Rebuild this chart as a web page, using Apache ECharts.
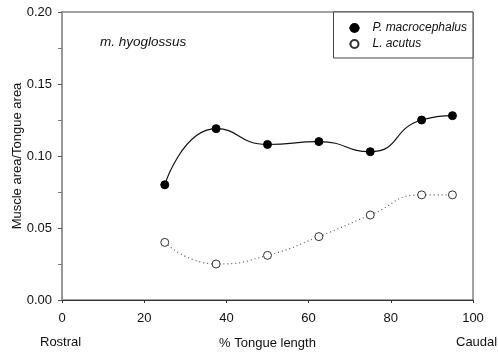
<!DOCTYPE html>
<html>
<head>
<meta charset="utf-8">
<script src="https://cdn.jsdelivr.net/npm/echarts@6/dist/echarts.min.js"></script>
<style>
  html, body { margin: 0; padding: 0; background: #fff; }
  #chart { width: 498px; height: 352px; }
</style>
</head>
<body>
<div id="chart"></div>
<script>
// tongue position (% length) and muscle area ratio
var positions = [25, 37.5, 50, 62.5, 75, 87.5, 95];
var macrocephalus = [0.080, 0.119, 0.108, 0.110, 0.103, 0.125, 0.128];
var acutus = [0.040, 0.025, 0.031, 0.044, 0.059, 0.073, 0.073];
var yTicks = ['0.00', '0.05', '0.10', '0.15', '0.20'];

function pairs(ys) {
    return positions.map(function (x, i) { return [x, ys[i]]; });
}

var font = 'Liberation Sans, Arial, sans-serif';
var chart = echarts.init(document.getElementById('chart'));

chart.setOption({
    animation: false,
    backgroundColor: '#fff',
    grid: {
        left: 62, right: 25, top: 12, bottom: 52,
        outerBoundsMode: 'none', containLabel: false,
        show: true, borderColor: '#444', borderWidth: 1
    },
    legend: {
        orient: 'vertical',
        right: 25, top: 12,
        padding: [10, 6, 8, 15],
        itemGap: 4,
        itemWidth: 10, itemHeight: 10,
        borderColor: '#444', borderWidth: 1,
        backgroundColor: '#fff',
        textStyle: { fontFamily: font, fontSize: 12, fontStyle: 'italic', color: '#111', padding: [0, 0, 0, 8] },
        data: ['P. macrocephalus', 'L. acutus']
    },
    xAxis: {
        type: 'value', min: 0, max: 100, interval: 20,
        name: '% Tongue length', nameLocation: 'middle', nameGap: 37,
        nameMoveOverlap: false,
        nameTextStyle: { fontFamily: font, fontSize: 13, color: '#111' },
        axisLine: { lineStyle: { color: '#333', width: 1 } },
        axisTick: { show: true, length: 3, lineStyle: { color: '#333' } },
        axisLabel: { fontFamily: font, fontSize: 13, color: '#111', margin: 12 },
        splitLine: { show: false }
    },
    yAxis: {
        type: 'value', min: 0, max: 0.2, interval: 0.05,
        name: 'Muscle area/Tongue area', nameLocation: 'middle', nameGap: 38,
        nameMoveOverlap: false,
        nameTextStyle: { fontFamily: font, fontSize: 13, color: '#111' },
        axisLine: { show: true, lineStyle: { color: '#999', width: 2 } },
        axisTick: { show: true, length: 4, lineStyle: { color: '#555' } },
        minorTick: { show: true, splitNumber: 2, length: 4, lineStyle: { color: '#777' } },
        axisLabel: {
            fontFamily: font, fontSize: 13, color: '#111', margin: 10,
            formatter: function (v) { return yTicks[Math.round(v / 0.05)]; }
        },
        splitLine: { show: false }
    },
    graphic: [
        { type: 'text', left: 100, top: 35, style: { text: 'm. hyoglossus', font: 'italic 13.5px ' + font, fill: '#111' } },
        { type: 'text', left: 40, top: 336, style: { text: 'Rostral', font: '13px ' + font, fill: '#111' } },
        { type: 'text', left: 456, top: 336, style: { text: 'Caudal', font: '13px ' + font, fill: '#111' } }
    ],
    series: [
        {
            name: 'P. macrocephalus', type: 'line', smooth: 0.55,
            data: pairs(macrocephalus),
            symbol: 'circle', symbolSize: 8,
            itemStyle: { color: '#000', borderColor: '#000', borderWidth: 1 },
            lineStyle: { color: '#111', width: 1.2 }
        },
        {
            name: 'L. acutus', type: 'line', smooth: 0.55,
            data: pairs(acutus),
            symbol: 'circle', symbolSize: 8,
            itemStyle: { color: '#fff', borderColor: '#333', borderWidth: 1 },
            lineStyle: { color: '#555', width: 1.2, type: [1, 3] }
        }
    ]
});
</script>
</body>
</html>
